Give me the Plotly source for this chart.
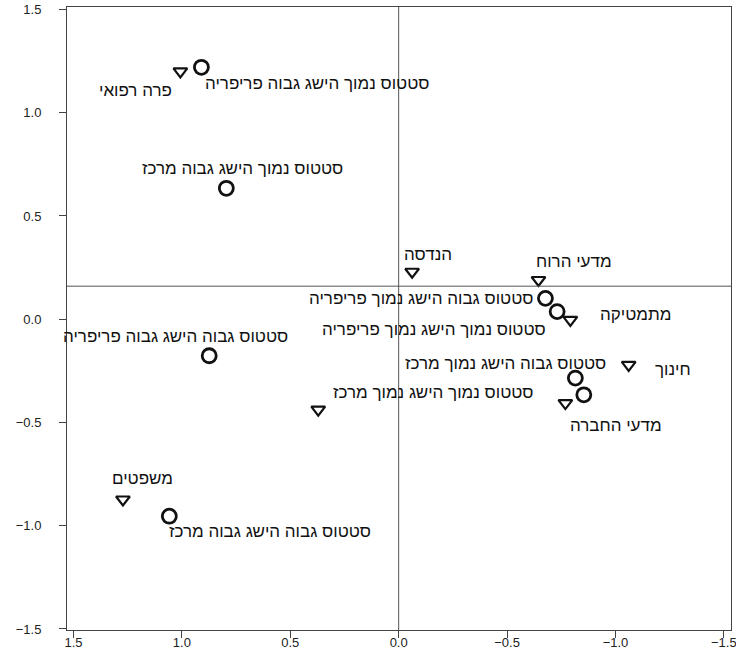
import plotly.graph_objects as go

# ---- data ----
status_labels = [
    "סטטוס נמוך הישג גבוה פריפריה",
    "סטטוס נמוך הישג גבוה מרכז",
    "סטטוס גבוה הישג גבוה פריפריה",
    "סטטוס גבוה הישג גבוה מרכז",
    "סטטוס גבוה הישג נמוך פריפריה",
    "סטטוס נמוך הישג נמוך פריפריה",
    "סטטוס גבוה הישג נמוך מרכז",
    "סטטוס נמוך הישג נמוך מרכז",
]
status_x = [0.910, 0.795, 0.874, 1.058, -0.677, -0.731, -0.815, -0.854]
status_y = [1.220, 0.634, -0.177, -0.954, 0.101, 0.037, -0.285, -0.366]

field_labels = ["פרה רפואי", "הנדסה", "מדעי הרוח", "מתמטיקה", "חינוך", "מדעי החברה", "", "משפטים"]
field_x = [1.007, -0.062, -0.645, -0.792, -1.061, -0.769, 0.371, 1.272]
field_y = [1.200, 0.230, 0.190, -0.003, -0.221, -0.406, -0.438, -0.873]

ref_x = 0.0
ref_y = 0.16

tick_vals_x = [1.5, 1.0, 0.5, 0.0, -0.5, -1.0, -1.5]
tick_vals_y = [1.5, 1.0, 0.5, 0.0, -0.5, -1.0, -1.5]

# ---- label placement (style) ----
status_label_pos = [
    ("left", 2, -16), ("center", 16, 20), ("center", -34, 19), ("left", -2, -15),
    ("right", -10, 0), ("right", -9, -18), ("right", 33, 15), ("right", -48, 2),
]
field_label_pos = [
    ("right", -6, -19), ("left", -10, 17), ("left", -5, 18), ("left", 28, 5),
    ("left", 24, -5), ("left", 3, -22), ("left", 0, 0), ("left", -13, 21),
]

LABEL_FONT = dict(family="Liberation Sans, Arial, sans-serif", size=17, color="#111")
TICK_FONT = dict(family="Liberation Sans, Arial, sans-serif", size=13, color="#222")

fig = go.Figure()
fig.add_trace(go.Scatter(
    x=status_x, y=status_y, mode="markers",
    marker=dict(symbol="circle-open", size=14, color="#111", line=dict(width=2.8, color="#111")),
    showlegend=False, hoverinfo="skip",
))
fig.add_trace(go.Scatter(
    x=field_x, y=field_y, mode="markers",
    marker=dict(symbol="triangle-down-open", size=12, color="#111", line=dict(width=2.2, color="#111")),
    showlegend=False, hoverinfo="skip",
))

annotations = []
for lab, x, y, (anc, dx, dy) in zip(status_labels, status_x, status_y, status_label_pos):
    annotations.append(dict(x=x, y=y, text=lab, showarrow=False, xanchor=anc, yanchor="middle",
                            xshift=dx, yshift=dy, font=LABEL_FONT))
for lab, x, y, (anc, dx, dy) in zip(field_labels, field_x, field_y, field_label_pos):
    if lab:
        annotations.append(dict(x=x, y=y, text=lab, showarrow=False, xanchor=anc, yanchor="middle",
                                xshift=dx, yshift=dy, font=LABEL_FONT))

shapes = [
    dict(type="line", xref="x", yref="paper", x0=ref_x, x1=ref_x, y0=0, y1=1,
         line=dict(color="#555", width=1)),
    dict(type="line", xref="paper", yref="y", x0=0, x1=1, y0=ref_y, y1=ref_y,
         line=dict(color="#555", width=1)),
]

axis_common = dict(showgrid=False, zeroline=False, showline=True, mirror=True,
                   linecolor="#444", linewidth=1, ticks="outside", ticklen=7,
                   tickcolor="#444", tickformat=".1f", automargin=False,
                   ticklabeloverflow="allow", tickfont=TICK_FONT)

fig.update_layout(
    width=736, height=654,
    margin=dict(l=67, r=5, t=7, b=24),
    plot_bgcolor="white", paper_bgcolor="white",
    xaxis=dict(range=[1.53, -1.533], tickvals=tick_vals_x, ticklabelstandoff=-7, **axis_common),
    yaxis=dict(range=[-1.505, 1.512], tickvals=tick_vals_y, ticklabelstandoff=15, **axis_common),
    annotations=annotations, shapes=shapes,
)

fig.write_html("out.html", config={"displayModeBar": False},
               post_script="document.body.style.margin='0';document.body.style.overflow='hidden';")
